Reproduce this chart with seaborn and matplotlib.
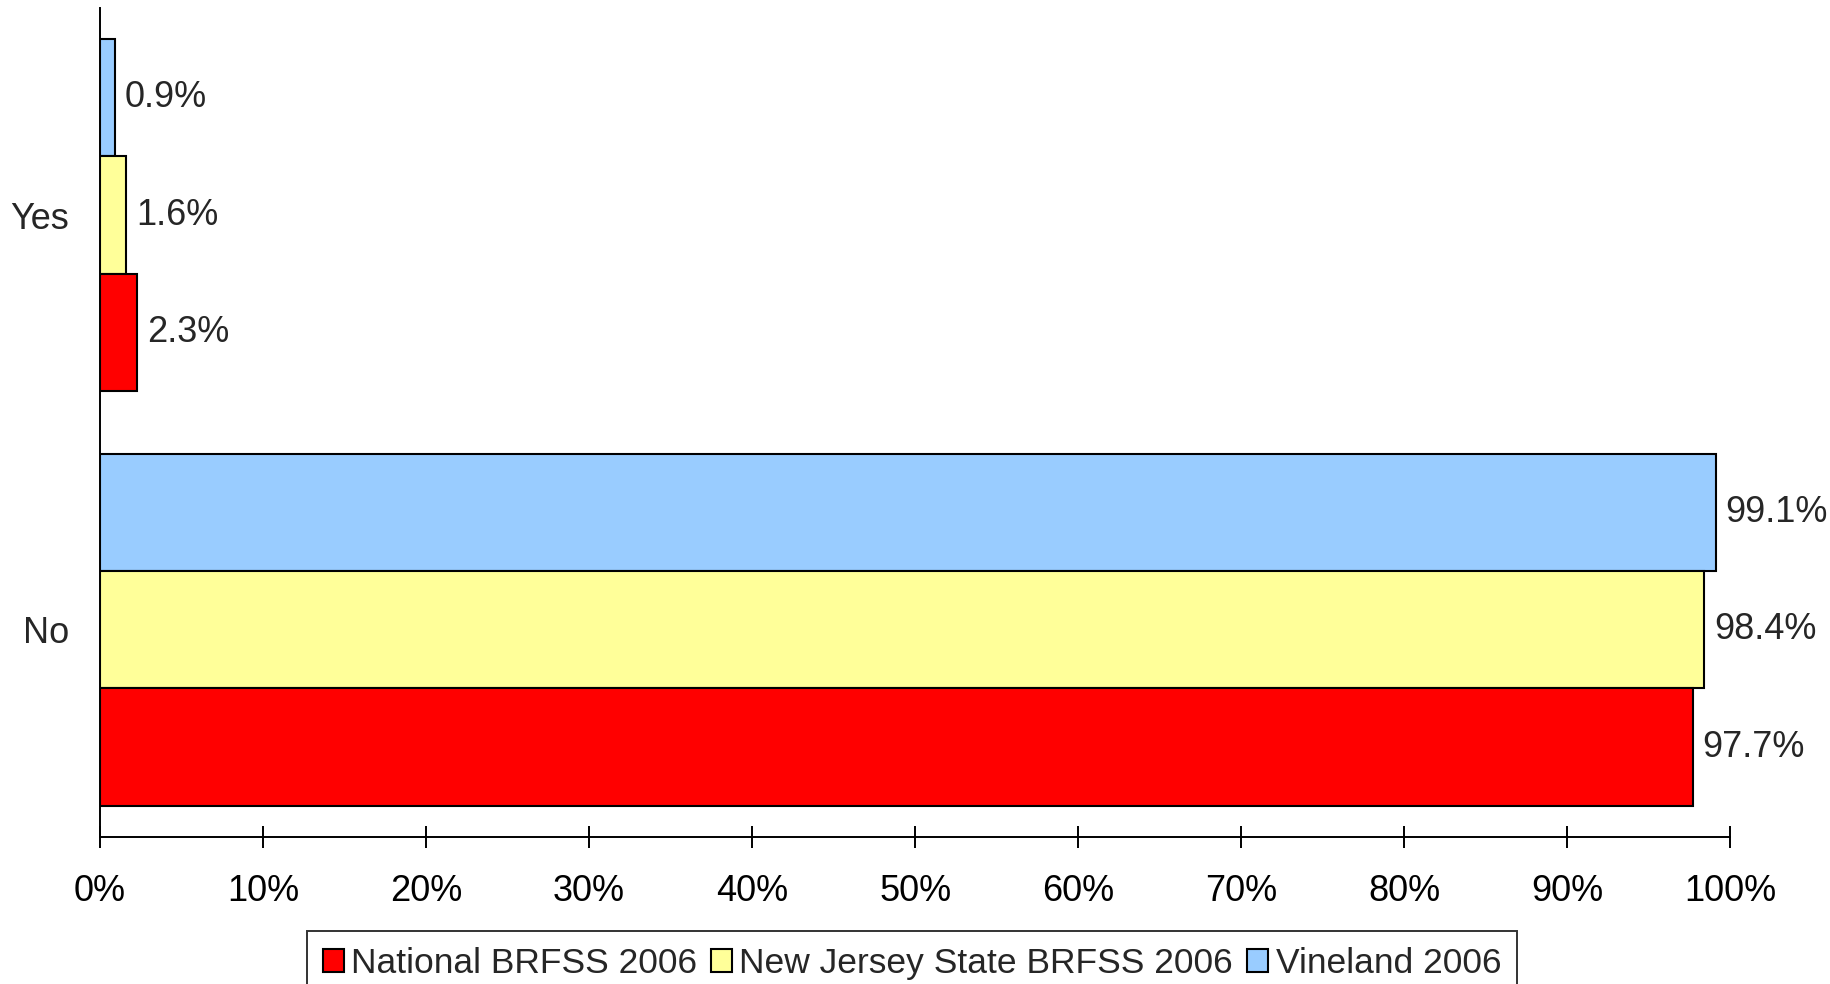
import pandas as pd
import seaborn as sns
import matplotlib.pyplot as plt
from matplotlib.patches import Patch

# Values (percent)
categories = ['Yes', 'No']
national = [2.3, 97.7]
new_jersey = [1.6, 98.4]
vineland = [0.9, 99.1]

series_names = ['National BRFSS 2006', 'New Jersey State BRFSS 2006', 'Vineland 2006']
series_colors = ['#FF0000', '#FFFF99', '#99CCFF']

rows = []
for name, vals in zip(series_names, [national, new_jersey, vineland]):
    for cat, v in zip(categories, vals):
        rows.append({'Answer': cat, 'Source': name, 'Percent': v})
df = pd.DataFrame(rows)

sns.set_style('white')
plt.rcParams['font.family'] = ['Liberation Sans', 'DejaVu Sans']
fs = 26

fig = plt.figure(figsize=(18.31, 9.84), dpi=100)
ax = fig.add_axes([0.0546, 0.1494, 0.8904, 0.8426])

# Vineland drawn on top within each group, National at the bottom
draw_order = series_names[::-1]
palette = dict(zip(series_names, series_colors))
sns.barplot(data=df, x='Percent', y='Answer', hue='Source', order=categories,
            hue_order=draw_order, palette=palette, width=0.85, gap=0,
            edgecolor='black', linewidth=1.5, saturation=1, legend=False, ax=ax)

for cont in ax.containers:
    ax.bar_label(cont, fmt='%.1f%%', padding=7, fontsize=fs)

ax.set_xlim(0, 100)
ax.set_ylim(1.5, -0.5)
ax.set_xticks(range(0, 101, 10))
ax.set_xticklabels([f'{v}%' for v in range(0, 101, 10)], fontsize=fs)
ax.tick_params(axis='x', bottom=True, direction='inout', length=16, width=1.4,
               pad=19, colors='black')
ax.tick_params(axis='y', left=False, length=0, pad=22, labelsize=fs)
ax.set_xlabel('')
ax.set_ylabel('')

for side in ['top', 'right']:
    ax.spines[side].set_visible(False)
for side in ['left', 'bottom']:
    ax.spines[side].set_color('black')
    ax.spines[side].set_linewidth(1.4)

handles = [Patch(facecolor=c, edgecolor='black', linewidth=1.5) for c in series_colors]
leg = fig.legend(handles, series_names, loc='upper center', bbox_to_anchor=(0.498, 0.054),
                 ncol=3, fontsize=25.5, frameon=True, fancybox=False, edgecolor='black',
                 handlelength=0.6, handleheight=0.6, handletextpad=0.2,
                 columnspacing=0.4, borderpad=0.45, borderaxespad=0)
leg.get_frame().set_linewidth(1.4)

fig.savefig('out.png', dpi=100)
